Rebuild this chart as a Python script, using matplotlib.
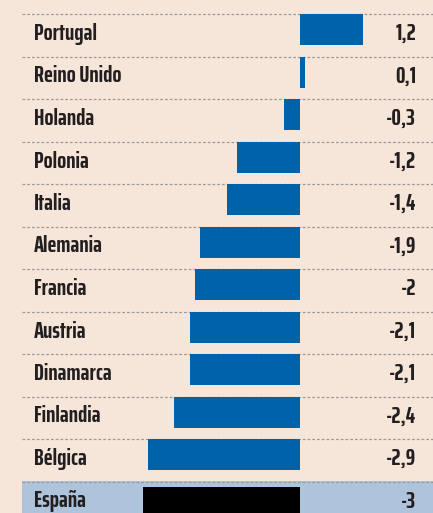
import matplotlib
matplotlib.use("Agg")
import matplotlib.pyplot as plt
from matplotlib import font_manager
from matplotlib.font_manager import FontProperties
from matplotlib.textpath import TextPath

countries = ["Portugal", "Reino Unido", "Holanda", "Polonia", "Italia", "Alemania",
             "Francia", "Austria", "Dinamarca", "Finlandia", "Bélgica", "España"]
values = [1.2, 0.1, -0.3, -1.2, -1.4, -1.9, -2.0, -2.1, -2.1, -2.4, -2.9, -3.0]
value_labels = ["1,2", "0,1", "-0,3", "-1,2", "-1,4", "-1,9", "-2", "-2,1", "-2,1",
                "-2,4", "-2,9", "-3"]
highlight = "España"

# font choice: a condensed bold face whose "Reino Unido" width / cap height is ~5.27
wmap = {"bold": 700, "heavy": 800, "black": 900, "semibold": 600, "demibold": 600,
        "extra bold": 800, "ultrabold": 800, "demi": 600}
def wnum(w):
    try:
        return int(w)
    except Exception:
        return wmap.get(str(w).lower(), 400)

bold_faces = {}
for f in font_manager.fontManager.ttflist:
    if wnum(f.weight) >= 600 and f.style == "normal":
        bold_faces.setdefault(f.name, []).append(wnum(f.weight))

cands = ["Barlow Condensed", "Fira Sans Extra Condensed", "Fira Sans Condensed",
         "Roboto Condensed", "Encode Sans Condensed", "Saira Condensed",
         "Archivo Narrow", "PT Sans Narrow", "IBM Plex Sans Condensed",
         "Asap Condensed", "Sofia Sans Condensed", "Barlow Semi Condensed",
         "Encode Sans Semi Condensed", "Saira Semi Condensed", "Saira ExtraCondensed",
         "Encode Sans Compressed"]
target_ratio = 87.4 / 16.6
best = None
for c in cands:
    if c not in bold_faces:
        continue
    wt = 700 if 700 in bold_faces[c] else min(bold_faces[c], key=lambda x: abs(x - 700))
    try:
        fp = FontProperties(family=c, weight=wt)
        path = font_manager.findfont(fp, fallback_to_default=False)
        ok = any(f.fname == path and wnum(f.weight) >= 600
                 for f in font_manager.fontManager.ttflist)
        if not ok:
            continue
        w = TextPath((0, 0), "Reino Unido", size=100, prop=fp).get_extents().width
        h = TextPath((0, 0), "H", size=100, prop=fp).get_extents().height
    except Exception:
        continue
    score = abs(w / h - target_ratio)
    if best is None or score < best[0]:
        best = (score, c, h, wt)
if best is None:
    fam, cap100, weight = "DejaVu Sans", 72.9, "bold"
else:
    fam, cap100, weight = best[1], best[2], best[3]
cap_px = 16.4
fsize = cap_px / (cap100 / 100) * 0.72   # points at 100 dpi
family = [fam, "DejaVu Sans"]

BG = "#f6e5d9"
BLUE = "#0062a8"
HL = "#aec4dc"
TXT = "#231f20"

W, H = 433, 513
fig = plt.figure(figsize=(W / 100, H / 100), dpi=100, facecolor=BG)
ax = fig.add_axes([0, 0, 1, 1])
ax.set_facecolor(BG)

zero_px = 300
ppu = 52.5
ax.set_xlim(-zero_px / ppu, (W - zero_px) / ppu)
ax.set_ylim(H, 0)
ax.axis("off")

top0, pitch = 14, 42.5
x_line0 = -(zero_px - 22) / ppu
x_line1 = (W - zero_px) / ppu
for i, (c, v, lab) in enumerate(zip(countries, values, value_labels)):
    top = top0 + pitch * i
    if c == highlight:
        ax.add_patch(plt.Rectangle((x_line0, top - 1), x_line1 - x_line0, pitch + 40,
                                   facecolor=HL, edgecolor="none", zorder=0))
        color = "black"
        btop = top + 5
    else:
        color = BLUE
        btop = top
    ax.hlines(top, x_line0, x_line1, colors="#9a9a9a", linestyles=(0, (2.2, 1.6)),
              linewidth=0.9, zorder=1)
    ax.barh(btop + 15.5, v, height=31, color=color, zorder=2)
    ax.text(34 / W, 1 - (top + 26) / H, c, transform=ax.transAxes, ha="left",
            va="baseline", fontsize=fsize, fontweight=weight, color=TXT, family=family)
    ax.text(416 / W, 1 - (top + 26) / H, lab, transform=ax.transAxes, ha="right",
            va="baseline", fontsize=fsize, fontweight=weight, color=TXT, family=family)

fig.savefig("out.png", dpi=100, facecolor=BG)
